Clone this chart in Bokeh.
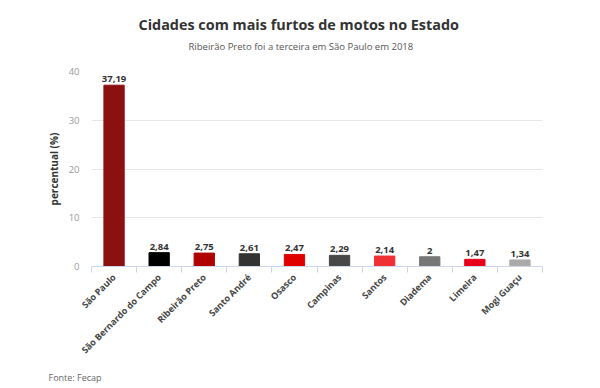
import math
from bokeh.plotting import figure
from bokeh.models import ColumnDataSource, FixedTicker, Title
from bokeh.core.properties import value
from bokeh.embed import file_html
from bokeh.resources import INLINE

cities = ["São Paulo", "São Bernardo do Campo", "Ribeirão Preto", "Santo André", "Osasco",
          "Campinas", "Santos", "Diadema", "Limeira", "Mogi Guaçu"]
values = [37.19, 2.84, 2.75, 2.61, 2.47, 2.29, 2.14, 2.0, 1.47, 1.34]
labels = ["37,19", "2,84", "2,75", "2,61", "2,47", "2,29", "2,14", "2", "1,47", "1,34"]
colors = ["#8b1111", "#000000", "#b00000", "#333333", "#e00000",
          "#484848", "#f03035", "#777777", "#e8001b", "#aaaaaa"]
y_ticks = [0, 10, 20, 30, 40]

FONT = "Open Sans"
pos = [i + 0.5 for i in range(len(cities))]
src = ColumnDataSource(dict(x=pos, top=values, color=colors, label=labels))

p = figure(width=600, height=388, output_backend="svg", toolbar_location=None,
           x_range=(0, len(cities)), y_range=(0, 40),
           min_border_left=91, min_border_right=58, min_border_top=71, min_border_bottom=122)
p.outline_line_color = None
p.background_fill_color = "white"
p.border_fill_color = "white"
p.title.visible = False

p.vbar(x="x", top="top", bottom=0, width=0.45, color="color", source=src)
p.text(x="x", y="top", text="label", source=src, text_align="center", text_baseline="bottom",
       y_offset=-3, text_font=value(FONT), text_font_size="9.5px", text_font_style="bold",
       text_color="#333333")

# grid
p.xgrid.visible = False
p.ygrid.grid_line_color = "#e6e6e6"
p.ygrid.ticker = FixedTicker(ticks=y_ticks)

# y axis
ya = p.yaxis[0]
ya.ticker = FixedTicker(ticks=y_ticks)
ya.axis_line_color = None
ya.major_tick_line_color = None
ya.major_tick_out = 0
ya.major_tick_in = 0
ya.minor_tick_line_color = None
ya.minor_tick_out = 0
ya.major_label_text_color = "#999999"
ya.major_label_text_font = FONT
ya.major_label_text_font_size = "9.5px"
ya.major_label_standoff = 12
ya.axis_label = "percentual (%)"
ya.axis_label_text_font = FONT
ya.axis_label_text_font_size = "10px"
ya.axis_label_text_font_style = "bold"
ya.axis_label_text_color = "#333333"
ya.axis_label_standoff = 5

# x axis
xa = p.xaxis[0]
xa.ticker = FixedTicker(ticks=pos, minor_ticks=list(range(len(cities) + 1)))
xa.major_label_overrides = {p_: c for p_, c in zip(pos, cities)}
xa.major_label_orientation = math.pi / 4
xa.major_label_text_font = FONT
xa.major_label_text_font_size = "9px"
xa.major_label_text_font_style = "bold"
xa.major_label_text_color = "#444444"
xa.major_label_standoff = 3
xa.axis_line_color = "#ccd6eb"
xa.major_tick_line_color = None
xa.major_tick_out = 6
xa.minor_tick_line_color = "#ccd6eb"
xa.minor_tick_out = 6
xa.minor_tick_in = 0

# spacer between frame and subtitle
p.add_layout(Title(text=" ", text_font_size="1px", standoff=16), "above")
p.add_layout(Title(text="Ribeirão Preto foi a terceira em São Paulo em 2018", align="left",
                   offset=97, text_font=FONT, text_font_size="9.5px",
                   text_font_style="normal", text_color="#555555", standoff=0), "above")
p.add_layout(Title(text="Cidades com mais furtos de motos no Estado", align="left",
                   offset=47, text_font=FONT, text_font_size="14.4px",
                   text_font_style="bold", text_color="#333333", standoff=8), "above")
p.add_layout(Title(text="Fonte: Fecap", align="left", offset=-43, text_font=FONT,
                   text_font_size="9px", text_font_style="normal",
                   text_color="#666666", standoff=10), "below")

open("out.html", "w").write(file_html(p, INLINE))
